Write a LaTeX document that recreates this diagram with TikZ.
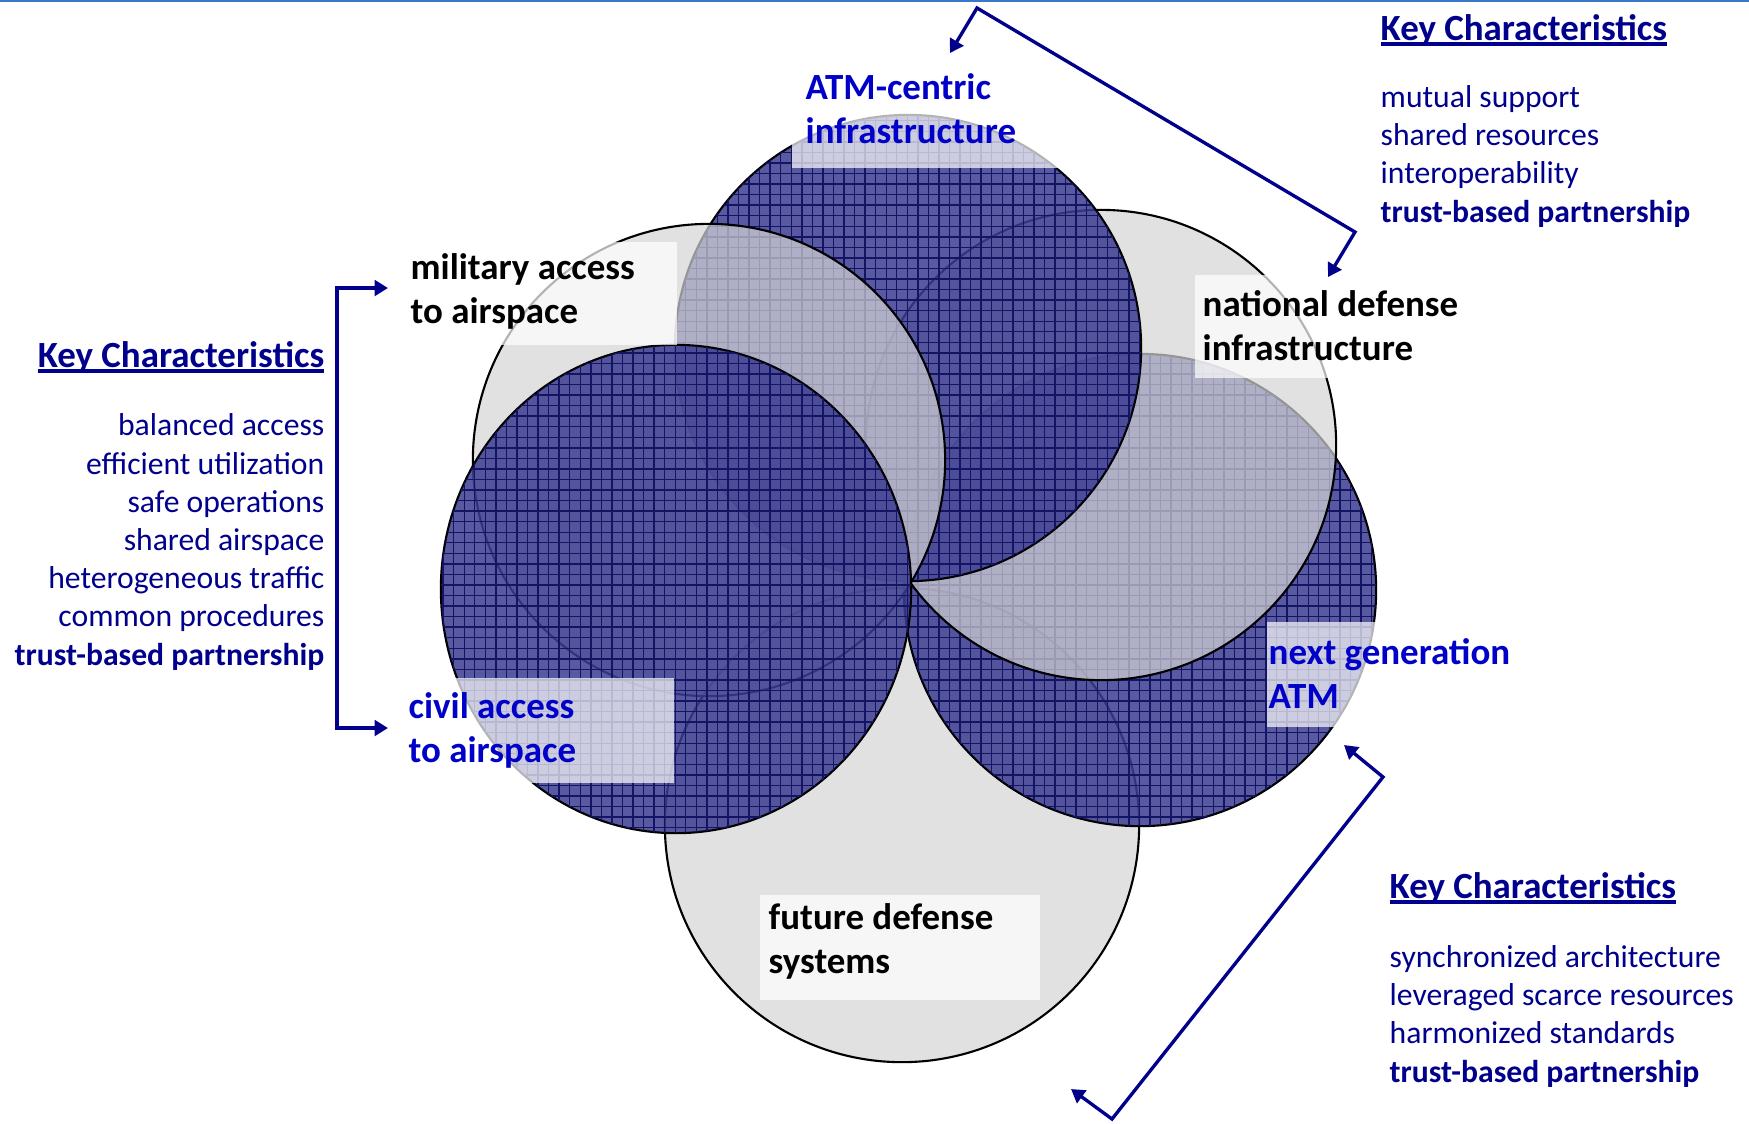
\documentclass[tikz,border=0pt]{standalone}
\usepackage{fontspec}
\setmainfont{Carlito}
\usetikzlibrary{positioning, arrows.meta, patterns}
\definecolor{navyink}{RGB}{0,0,140}
\definecolor{brightink}{RGB}{0,0,200}
\definecolor{discblue}{RGB}{60,60,145}
\definecolor{gridnavy}{RGB}{20,20,100}
\definecolor{discgray}{RGB}{212,212,212}
\definecolor{rulebar}{RGB}{60,120,200}
\newcommand{\keyhead}[1]{\setbox0\hbox{#1}\rlap{\rule[-1.8pt]{\wd0}{1.1pt}}\box0}

\begin{document}
\begin{tikzpicture}
    [
        x=0.01cm, y=-0.01cm,
        blue_disc/.style={draw=black, line width=0.6pt, fill=discblue, fill opacity=0.85,
            postaction={pattern=grid, pattern color=gridnavy}},
        gray_disc/.style={draw=black, line width=0.6pt, fill=discgray, fill opacity=0.7},
        label_box/.style={fill=white, fill opacity=0.7},
        dark_label/.style={anchor=base west, inner sep=0, align=left, font=\fontsize{10.5}{12.3}\selectfont\bfseries, text=black},
        blue_label/.style={dark_label, text=brightink},
        key_head/.style={inner sep=0, font=\fontsize{10.5}{12.6}\selectfont\bfseries, text=navyink},
        key_list/.style={inner sep=0, font=\fontsize{9}{10.86}\selectfont, text=navyink},
        link/.style={draw=navyink, line width=0.95pt, {Triangle[length=3.8pt,width=4.4pt]}-{Triangle[length=3.8pt,width=4.4pt]}},
    ]
        \useasboundingbox (0,0) rectangle (1749,1123);
        \draw[rulebar, line width=0.6pt] (0,1) -- (1749,1);

        % six discs, all through one point
        \filldraw[gray_disc] (902,825) circle[radius=2.37cm];
        \filldraw[blue_disc] (1140,590) circle[radius=2.36cm];
        \filldraw[gray_disc] (1101,445) circle[radius=2.35cm];
        \filldraw[blue_disc] (908,348) circle[radius=2.33cm];
        \filldraw[gray_disc] (709,460) circle[radius=2.36cm];
        \filldraw[blue_disc] (676,589) ellipse[x radius=2.35cm, y radius=2.44cm];

        % label boxes
        \fill[label_box] (792,103) rectangle (1069,168);
        \fill[label_box] (407,242) rectangle (677,345);
        \fill[label_box] (1195,275) rectangle (1460,378);
        \fill[label_box] (1267,622) rectangle (1510,727);
        \fill[label_box] (404,678) rectangle (674,783);
        \fill[label_box] (760,895) rectangle (1040,1000);

        % base of a two-line label is its last line
        \node[blue_label] (atm_lbl) at (805,143) {ATM-centric\\infrastructure};
        \node[dark_label] (mil_lbl) at (410,323) {military access\\to airspace};
        \node[dark_label] (nat_lbl) at (1202,360) {national defense\\infrastructure};
        \node[blue_label] (ngen_lbl) at (1268,708) {next generation\\ATM};
        \node[blue_label] (civ_lbl) at (408,762) {civil access\\to airspace};
        \node[dark_label] (fut_lbl) at (768,973) {future defense\\systems};

        % key characteristics
        \node[key_head, anchor=base west] (kc_top) at (1380,40) {\keyhead{Key Characteristics}};
        \node[key_list, anchor=base west, align=left] (kc_top_list) at (1380,222)
            {mutual support\\shared resources\\interoperability\\\textbf{trust-based partnership}};
        \node[key_head, anchor=base east] (kc_left) at (325,367) {\keyhead{Key Characteristics}};
        \node[key_list, anchor=base east, align=right] (kc_left_list) at (325,665)
            {balanced access\\efficient utilization\\safe operations\\shared airspace\\heterogeneous traffic\\common procedures\\\textbf{trust-based partnership}};
        \node[key_head, anchor=base west] (kc_bot) at (1389,898) {\keyhead{Key Characteristics}};
        \node[key_list, anchor=base west, align=left] (kc_bot_list) at (1389,1082)
            {synchronized architecture\\leveraged scarce resources\\harmonized standards\\\textbf{trust-based partnership}};

        % connectors
        \coordinate (tr_a) at (950,53);
        \coordinate (tr_b) at (977,8);
        \coordinate (tr_c) at (1355,232);
        \coordinate (tr_d) at (1328,277);
        \draw[link] (tr_a) -- (tr_b) -- (tr_c) -- (tr_d);
        \coordinate (lf_a) at (388,288);
        \coordinate (lf_b) at (337,288);
        \coordinate (lf_c) at (337,728);
        \coordinate (lf_d) at (388,728);
        \draw[link] (lf_a) -- (lf_b) -- (lf_c) -- (lf_d);
        \coordinate (br_a) at (1344,745);
        \coordinate (br_b) at (1383,777);
        \coordinate (br_c) at (1112,1119);
        \coordinate (br_d) at (1071,1089);
        \draw[link] (br_a) -- (br_b) -- (br_c) -- (br_d);
\end{tikzpicture}
\end{document}
